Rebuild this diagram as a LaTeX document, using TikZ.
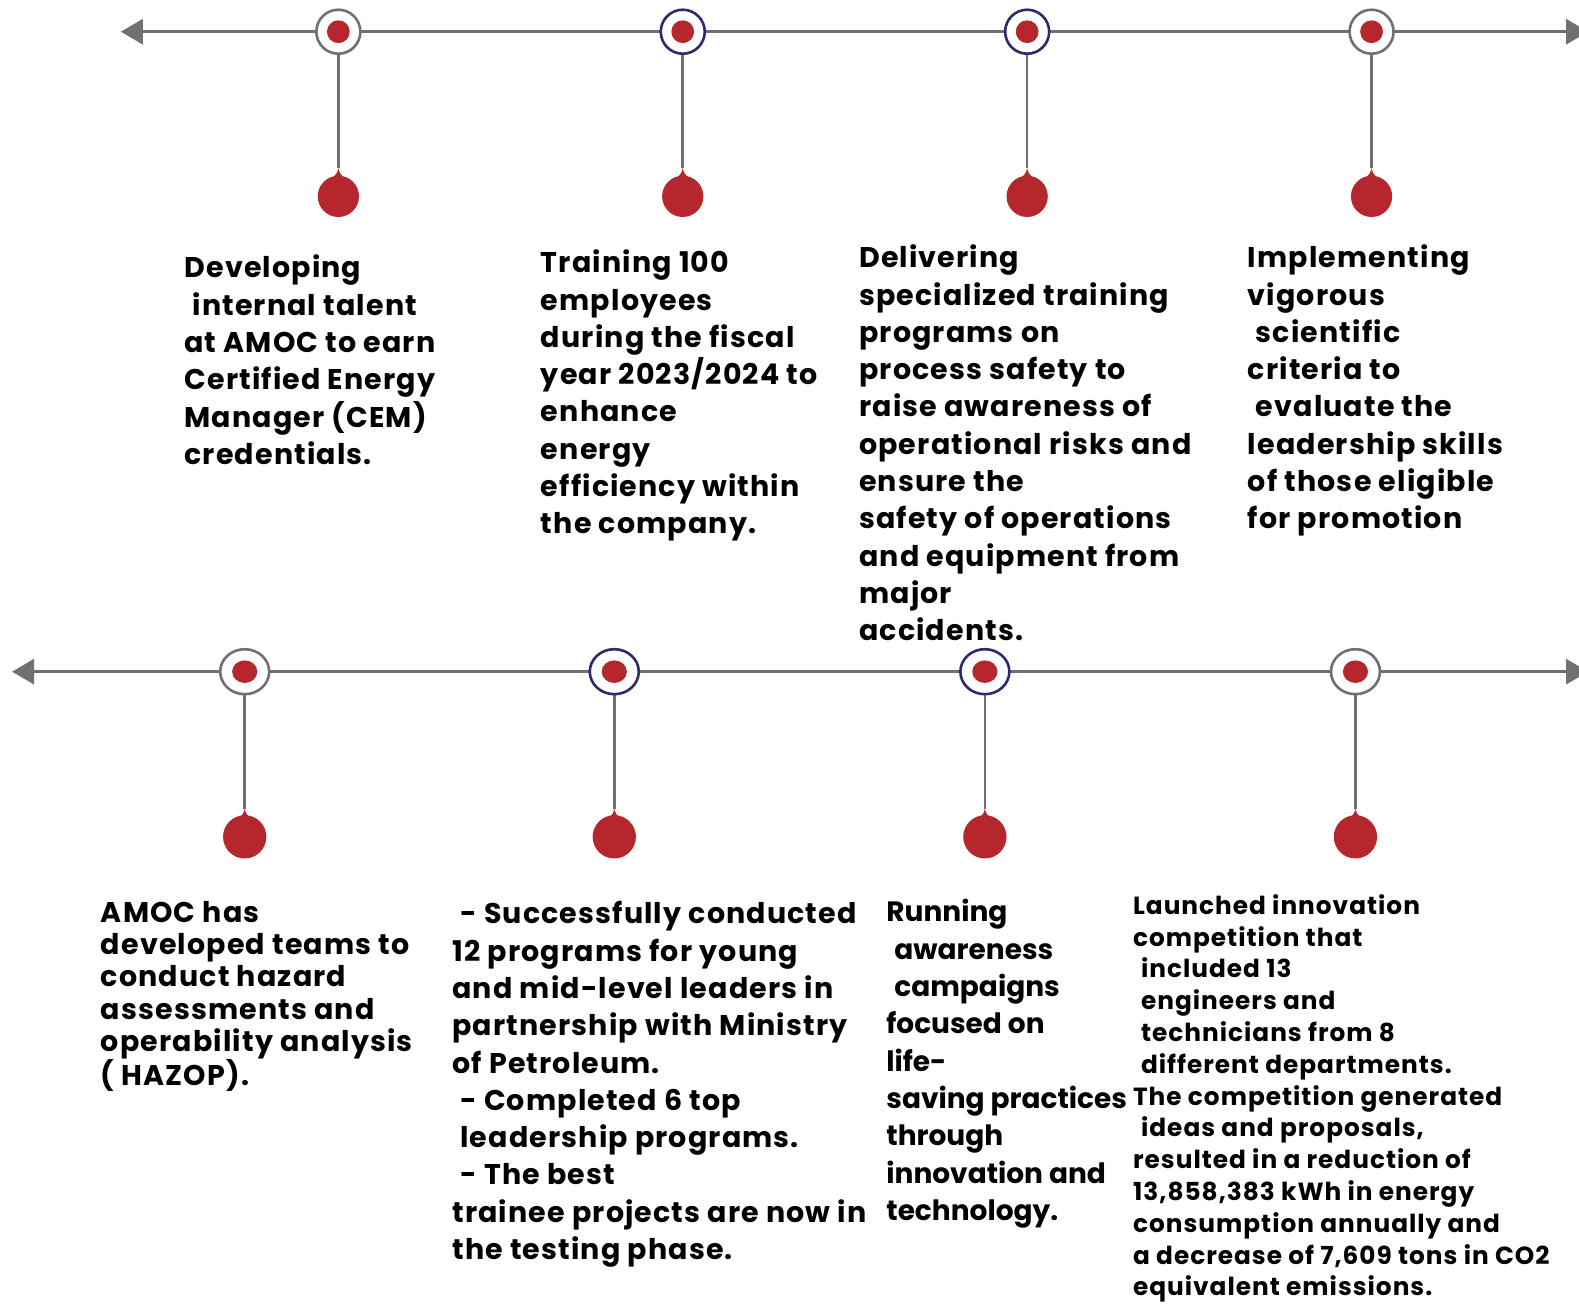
\documentclass[tikz,border=0pt]{standalone}
\usepackage{fontspec}
\setmainfont{Poppins}[LetterSpace=4]
\newfontfamily\tightfont{Poppins}
\usetikzlibrary{arrows.meta,shapes.geometric}
\definecolor{dred}{HTML}{B5272D}
\definecolor{lgray}{HTML}{707070}
\definecolor{navy}{HTML}{2B2A6A}
\tikzset{
  axis/.style={draw=lgray, line width=3pt, {Triangle[length=22pt,width=25pt]}-{Triangle[length=22pt,width=25pt]}},
  stem/.style={draw=lgray, line width=2.6pt},
  ringt/.style={circle, draw=#1, line width=2.6pt, fill=white, minimum size=44pt, inner sep=0pt},
  ringb/.style={ellipse, draw=#1, line width=2.6pt, fill=white, minimum width=49pt, minimum height=45pt, inner sep=0pt},
  txt/.style={anchor=north west, inner sep=0pt, align=left, font=\bfseries\fontsize{28.5}{37.3}\selectfont},
  txtt/.style={anchor=north west, inner sep=0pt, align=left, font=\tightfont\bfseries\fontsize{28}{37.3}\selectfont},
  txts/.style={anchor=north west, inner sep=0pt, align=left, font=\bfseries\fontsize{28.5}{32.2}\selectfont},
  txtxs/.style={anchor=north west, inner sep=0pt, align=left, font=\bfseries\fontsize{24.8}{31.8}\selectfont},
}
\newcommand{\dropat}[3]{% x, tip y, radius
  \fill[dred] (#1,#2+28) circle (#3);
  \fill[dred] (#1,#2) .. controls (#1+1.5,#2+8) and (#1+7,#2+11) .. (#1+14,#2+14) -- (#1-14,#2+14) .. controls (#1-7,#2+11) and (#1-1.5,#2+8) .. (#1,#2) -- cycle;
}
\newcommand{\ind}{\hspace*{8pt}}
\begin{document}
\begin{tikzpicture}[x=1.00702pt,y=-1.00702pt]
\useasboundingbox (0,0) rectangle (1568,1295);
\clip (0,0) rectangle (1568,1295);
% top row
\coordinate (tl) at (120,31.5);
\coordinate (tr) at (1577,31.5);
\draw[axis] (tl) -- (tr);
\foreach \n/\x in {1/336,2/678,3/1020,4/1362}{
  \coordinate (td\n) at (\x,167);
  \draw[stem] (\x,31.5) -- (td\n);
  \dropat{\x}{167}{20.5}
}
\node[ringt=lgray] (t1) at (336,31.5) {};
\node[ringt=navy] (t2) at (678,31.5) {};
\node[ringt=navy] (t3) at (1020,31.5) {};
\node[ringt=lgray] (t4) at (1362,31.5) {};
\foreach \n in {1,...,4}{\fill[dred] (t\n.center) circle (11.3);}
% bottom row
\coordinate (bl) at (12,667);
\coordinate (br) at (1577,667);
\draw[axis] (bl) -- (br);
\foreach \n/\x in {1/243,2/610,3/978,4/1346}{
  \coordinate (bd\n) at (\x,803);
  \draw[stem] (\x,667) -- (bd\n);
  \dropat{\x}{803}{21.5}
}
\node[ringb=lgray] (b1) at (243,667) {};
\node[ringb=navy] (b2) at (610,667) {};
\node[ringb=navy] (b3) at (978,667) {};
\node[ringb=lgray] (b4) at (1346,667) {};
\foreach \n in {1,...,4}{\fill[dred] (b\n.center) ellipse (12.5 and 11.2);}
% texts top
\node[txt] (x1) at (183,253) {Developing\\\ind internal talent\\at AMOC to earn\\Certified Energy\\Manager (CEM)\\credentials.};
\node[txt] (x2) at (537,248) {Training 100\\employees\\during the fiscal\\year 2023/2024 to\\enhance\\energy\\efficiency within\\the company.};
\node[txt] (x3) at (853,243) {Delivering\\specialized training\\programs on\\process safety to\\raise awareness of\\operational risks and\\ensure the\\safety of operations\\and equipment from\\major\\accidents.};
\node[txt] (x4) at (1239,243) {Implementing\\vigorous\\\ind scientific\\criteria to\\\ind evaluate the\\leadership skills\\of those eligible\\for promotion};
% texts bottom
\node[txts] (y1) at (100,895) {AMOC has\\developed teams to\\conduct hazard\\assessments and\\operability analysis\\( HAZOP).};
\node[txt] (y2) at (449,895) {\ind- Successfully conducted\\12 programs for young\\and mid-level leaders in\\partnership with Ministry\\of Petroleum.\\\ind- Completed 6 top\\\ind leadership programs.\\\ind- The best\\trainee projects are now in\\the testing phase.};
\node[txtt] (y3) at (880,893) {Running\\\ind awareness\\\ind campaigns\\focused on\\life-\\saving practices\\through\\innovation and\\technology.};
\node[txtxs] (y4) at (1125,888) {Launched innovation\\competition that\\\ind included 13\\\ind engineers and\\\ind technicians from 8\\\ind different departments.\\The competition generated\\\ind ideas and proposals,\\resulted in a reduction of\\13,858,383 kWh in energy\\consumption annually and\\a decrease of 7,609 tons in CO2\\equivalent emissions.};
\end{tikzpicture}
\end{document}
